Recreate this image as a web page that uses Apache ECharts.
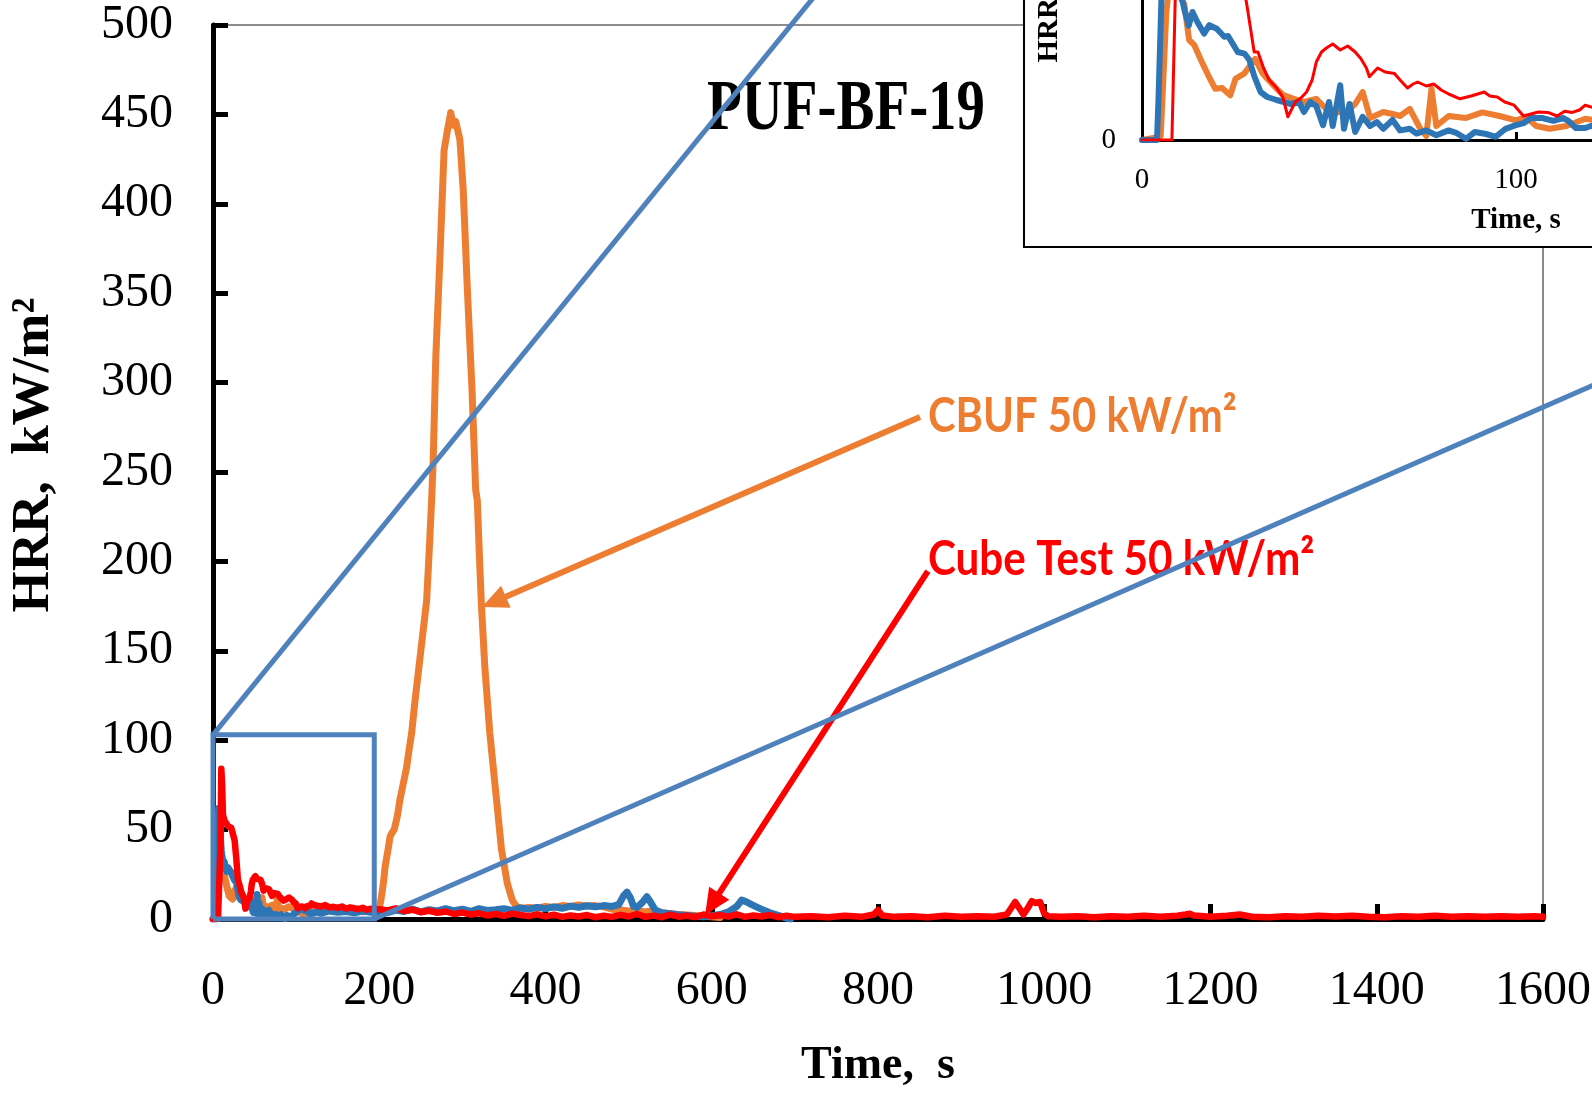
<!DOCTYPE html>
<html><head><meta charset="utf-8">
<script src="https://cdn.jsdelivr.net/npm/echarts@6/dist/echarts.min.js"></script>
<style>html,body{margin:0;padding:0;background:#fff}#c{width:1592px;height:1096px}</style>
</head><body><div id="c"></div>
<script>
// ---------- data (time s, HRR kW/m²) ----------
const cbufT = [0,3,5,5.7,6.5,7.5,8.5,10,11.3,12.6,14,16,17.8,19.6,21.4,23.6,25,27.3,29,30.3,32,33.5,36,37.8,40,43.3,46.6,50,54.6,57,59,61,64.5,67,69,71.6,74.3,76,77.4,78.7,82,86.6,91,95.6,100,102.7,105.4,109,113.5,118.5,125,130,140,150,160,170,180,190,196,200,202,205,207,211,213,215,218,222,225,229,233,236,239,243,250,257,260,263,265,268,273,278,282,286,289,292,297,301,306,311.6,316,318,321,323,327,333,341,347,354,360,365,372,380,390,400,410,420,430,440,450,460,470,480,490,500,510,520,530,540,550,560,570,580,590,600,610];
const cbufV = [0,0.5,1,15,32,40,38,36,34,25,23.7,19.5,16,12.8,13,11.2,15.3,16.6,18.7,20.3,17,15.3,12.8,11.2,10.5,9.5,10.3,7,7,9,12,5.5,7,6.5,6,7.8,3,1,12.8,3.5,6,5.5,6.9,6,4.9,5.7,3.5,2.8,3.5,5.3,4.5,5.5,4.8,5,4.2,4.8,4,4.5,4.5,6,10.6,20,29,40,46,48,50,58,67,76,85,95,104,122,150,178,205,234,258,314,370,430,441,451,444,446,436,408,352,296,240,234,197,175,141,104,67,39,20,10.6,7,6,6.5,6,7,6.5,7.5,7,7.8,7.2,7.5,6.8,5.5,5,4.5,4.8,4,4.5,3.5,3,2.5,2.2,2,1.5,1.2,0.8];

const coneT = [0,4,4.4,5.5,7,8,9,10,11.5,12.5,13.5,14.8,16.6,18,20,22,23,25.6,27.4,28.7,30,31.7,33.5,36,38,39.8,42,43.3,45,46.6,48.4,50,51,53,54,55.5,57,59,61,62.8,64.5,67,69,71.6,73.4,76,78.7,82,84,86.6,89,92,94.6,97.2,100,102,104,107,110,112.6,114,116,118.5,120,125,130,140,150,160,170,180,190,200,210,220,230,240,250,260,270,280,290,300,310,320,330,340,350,360,370,380,390,400,410,420,430,440,450,460,470,480,488,494,498,502,506,510,516,522,527,532,540,550,560,570,580,590,600,610,620,630,636,642,648,655,662,670,680,690,695];
const coneV = [0,0,10,45,62,55,45,38,32,28.6,32,29.5,26.6,28.7,27.8,25.8,26,22,21.6,20,16,12,10.75,10,9.5,9,9.5,7,9.5,8.5,3.7,9.5,3.5,13.7,2.8,9,2,5.8,3.5,4.5,2.8,5,2.4,2.8,1.6,2.4,1.2,2.4,1.8,0.3,2,1.5,0.8,2.8,3.7,4.2,5.5,5.5,4.8,5.5,4.8,3,3,3.5,4,3.2,4.5,3.8,4.2,3.5,4.5,3.8,4.5,3.5,5,4.2,5.5,4,5.2,4.5,5.8,4.6,5.5,4.2,5.8,4.8,5.2,5.8,4.8,6.2,5.5,6.5,5.8,6.8,6,7.2,6.5,7.4,6.8,7.5,7,8,13,15,12,7,6.5,9,12.4,9,5,3.5,3,2.4,2,1.5,1.2,1.8,2.5,4,7,10.6,9.5,8,6.5,5,3.5,2,0.5,0];

const cubeT = [0,6,8,9,10,11,12,14,18,22,24,26,28,30,31,32.5,34,36,37.7,39,41,42.5,44,45.5,46.6,48,49.3,51,53,55,57,58.5,60,60.8,62,63,65,67.5,69,71,72.5,73.7,76,78,80,82,85,88,91.5,93,95,97,99.5,102,104,106,108.5,111,113,115,117,118.5,121,125,130,135,140,145,150,155,160,165,170,175,180,185,190,195,200,210,220,230,240,250,260,270,280,290,300,310,320,330,340,350,360,370,380,390,400,410,420,430,440,450,460,470,480,490,500,510,520,530,540,550,560,570,580,590,600,610,620,630,640,650,660,670,680,690,700,720,740,760,780,795,800,805,820,840,860,880,900,920,940,955,960,965,970,975,980,985,990,995,1000,1005,1020,1040,1060,1080,1100,1120,1140,1160,1170,1175,1180,1200,1220,1235,1250,1270,1290,1310,1330,1350,1370,1390,1410,1430,1450,1470,1490,1510,1530,1550,1570,1590,1600];
const cubeV = [0,0,0,40,84,75,58,55,52,51,50,44,34,22,22,18,15,13,10.6,5.8,9.5,10.5,12,15,19.5,22,23,24,22.5,23.5,22,20.4,18,15.8,17,18,17,16.6,15,13,14,14.5,13.5,14,12.5,11.5,10.3,11,12,11,10.75,9.5,8.7,6,6.5,7,6.9,6,7.2,6.9,7.5,8.7,8,7.5,7,7.8,6.5,6.8,6.2,7,5.8,6.5,6,5.5,6.3,5.2,5.8,5.5,5.5,4.8,6,4.5,5.2,3.8,4.6,3.5,4.2,2.8,3.6,2.5,3.2,2,2.8,1.8,3,2.2,1.6,2.6,1.5,2.4,1.2,2,1.4,2.2,1,1.8,1.2,2.3,1.4,2.8,1.2,1.9,1,2.4,1.3,1.8,1.1,2.5,1.5,2.2,1.3,2.6,1.2,2,1.4,2.2,1,1.8,1.2,1.6,1,1.8,1.2,2.5,5,2,1.2,1.6,1,1.8,1.2,1.6,1.3,2.5,6,9.5,6,2.5,6,10,9,9.5,3,1.5,1.2,1.6,1,1.5,1.2,1.8,1.3,1.8,2.5,3,2,1.2,1.8,2.5,1.3,1,1.6,1.2,1.8,1.4,1.8,1.2,1,1.6,1.2,1.8,1.3,1.6,1.2,1.6,1.2,1.5,1.2];

// zoom box (data units) and axis ticks
const boxRight = 194, boxTop = 103;
const mainXTicks = [0,200,400,600,800,1000,1200,1400,1600];
const mainYTicks = [0,50,100,150,200,250,300,350,400,450,500];
const insetXTicks = [0,100,200];
const insetYTicks = [0,80];

// annotation anchors (data units of main chart)
const titleAt = [761.5, 452];
const cbufLabelAt = [860, 281];
const cubeLabelAt = [860, 201];
const cbufArrow = [[850.5, 280.8],[323.6, 174.5]];
const cubeArrow = [[860, 194.6],[592, 2.2]];

const C_OR = '#ED7D31', C_BL = '#2E75B6', C_RD = '#FF0000', C_BOX = '#4F81BD';
const pairs = (t, v) => t.map((x, i) => [x, v[i]]);
const plain = v => String(v);

const chart = echarts.init(document.getElementById('c'), null, {renderer: 'canvas'});
const serif = 'Liberation Serif, Times New Roman, serif';

function lineSeries(name, t, v, color, w, xi, z) {
  return {name, type: 'line', xAxisIndex: xi, yAxisIndex: xi, data: pairs(t, v),
    showSymbol: false, symbol: 'none', clip: true, z: z,
    lineStyle: {color, width: w, join: 'round', cap: 'round'}, itemStyle: {color}, silent: true};
}

const option = {
  animation: false,
  backgroundColor: '#fff',
  grid: [
    {left: 213, top: 25, width: 1330, height: 894, show: true, borderColor: '#8c8c8c', borderWidth: 2,
     outerBoundsMode: 'none', containLabel: false, z: 0},
    {left: 1142, top: -180, width: 748, height: 320, show: false, outerBoundsMode: 'none', containLabel: false, z: 11}
  ],
  xAxis: [
    {type: 'value', gridIndex: 0, min: mainXTicks[0], max: mainXTicks[mainXTicks.length-1], interval: 200,
     axisLine: {show: true, onZero: false, lineStyle: {color: '#000', width: 5}},
     axisTick: {show: true, inside: true, length: 15, lineStyle: {color: '#000', width: 5}},
     axisLabel: {color: '#000', fontFamily: serif, fontSize: 48, margin: 48, formatter: plain},
     splitLine: {show: false},
     name: 'Time,  s', nameLocation: 'middle', nameGap: 124,
     nameTextStyle: {color: '#000', fontFamily: serif, fontSize: 46, fontWeight: 'bold'}},
    {type: 'value', gridIndex: 1, min: insetXTicks[0], max: insetXTicks[insetXTicks.length-1], interval: 100, z: 12,
     axisLine: {show: true, onZero: false, lineStyle: {color: '#000', width: 3}},
     axisTick: {show: true, inside: true, length: 8, lineStyle: {color: '#000', width: 3}},
     axisLabel: {color: '#000', fontFamily: serif, fontSize: 29, margin: 26, formatter: plain},
     splitLine: {show: false},
     name: 'Time, s', nameLocation: 'middle', nameGap: 66,
     nameTextStyle: {color: '#000', fontFamily: serif, fontSize: 29, fontWeight: 'bold'}}
  ],
  yAxis: [
    {type: 'value', gridIndex: 0, min: mainYTicks[0], max: mainYTicks[mainYTicks.length-1], interval: 50,
     axisLine: {show: true, onZero: false, lineStyle: {color: '#000', width: 5}},
     axisTick: {show: true, inside: true, length: 15, lineStyle: {color: '#000', width: 5}},
     axisLabel: {color: '#000', fontFamily: serif, fontSize: 48, margin: 40, formatter: plain},
     splitLine: {show: false},
     name: 'HRR,  kW/m²', nameLocation: 'middle', nameGap: 152,
     nameTextStyle: {color: '#000', fontFamily: serif, fontSize: 53, fontWeight: 'bold', padding: [0, 0, 0, 34]}},
    {type: 'value', gridIndex: 1, min: insetYTicks[0], max: insetYTicks[1], interval: 80, z: 12,
     axisLine: {show: true, onZero: false, lineStyle: {color: '#000', width: 3}},
     axisTick: {show: false},
     axisLabel: {color: '#000', fontFamily: serif, fontSize: 29, margin: 26, formatter: plain},
     splitLine: {show: false},
     name: 'HRR, kW/m²', nameLocation: 'middle', nameGap: 78,
     nameTextStyle: {color: '#000', fontFamily: serif, fontSize: 29, fontWeight: 'bold'}}
  ],
  series: [
    lineSeries('CBUF 50 kW/m²', cbufT, cbufV, C_OR, 7, 0, 2),
    lineSeries('Cone 50 kW/m²', coneT, coneV, C_BL, 7, 0, 3),
    lineSeries('Cube Test 50 kW/m²', cubeT, cubeV, C_RD, 6.5, 0, 4),
    {type: 'line', xAxisIndex: 0, yAxisIndex: 0, z: 6, silent: true, showSymbol: false, symbol: 'none', clip: false,
     data: [[0,0],[boxRight,0],[boxRight,boxTop],[0,boxTop],[0,0]],
     lineStyle: {color: C_BOX, width: 5, join: 'miter'}},
    lineSeries('CBUF inset', cbufT, cbufV, C_OR, 6, 1, 13),
    lineSeries('Cone inset', coneT, coneV, C_BL, 6, 1, 14),
    lineSeries('Cube inset', cubeT, cubeV, C_RD, 3, 1, 15)
  ]
};
chart.setOption(option);

// ---------- annotations placed through the main chart's scales ----------
const P = p => chart.convertToPixel({gridIndex: 0}, p);
const insetFrame = {x: 1024, y: -261, w: 885, h: 508};

function arrowEls(a, b, color, w, headLen, headW) {
  const A = P(a), B = P(b);
  const dx = B[0]-A[0], dy = B[1]-A[1], L = Math.hypot(dx, dy);
  const ux = dx/L, uy = dy/L, nx = -uy, ny = ux;
  const base = [B[0]-ux*headLen, B[1]-uy*headLen];
  return [
    {type: 'line', z: 30, shape: {x1: A[0], y1: A[1], x2: base[0]+ux*2, y2: base[1]+uy*2}, style: {stroke: color, lineWidth: w}},
    {type: 'polygon', z: 30, shape: {points: [B, [base[0]+nx*headW, base[1]+ny*headW], [base[0]-nx*headW, base[1]-ny*headW]]}, style: {fill: color}}
  ];
}

const tl = P([0, boxTop]), br = P([boxRight, 0]);
const tPos = P(titleAt), cbPos = P(cbufLabelAt), cuPos = P(cubeLabelAt);
const sans = 'Lato, "Open Sans", sans-serif';

chart.setOption({graphic: {elements: [
  {type: 'rect', z: 10, shape: {x: insetFrame.x, y: insetFrame.y, width: insetFrame.w, height: insetFrame.h},
   style: {fill: '#fff', stroke: '#000', lineWidth: 2}},
  {type: 'text', z: 20, x: tPos[0], y: tPos[1], scaleX: 0.79,
   style: {text: 'PUF-BF-19', font: 'bold 72px ' + serif, fill: '#000', align: 'center', verticalAlign: 'middle'}},
  {type: 'text', z: 20, x: cbPos[0], y: cbPos[1], scaleX: 0.87,
   style: {text: 'CBUF 50 kW/m²', font: 'bold 48px ' + sans, fill: C_OR, align: 'left', verticalAlign: 'middle'}},
  {type: 'text', z: 20, x: cuPos[0], y: cuPos[1], scaleX: 0.88,
   style: {text: 'Cube Test 50 kW/m²', font: 'bold 48px ' + sans, fill: C_RD, align: 'left', verticalAlign: 'middle'}},
  ...arrowEls(cbufArrow[0], cbufArrow[1], C_OR, 6, 26, 12),
  ...arrowEls(cubeArrow[0], cubeArrow[1], C_RD, 6, 26, 12),
  {type: 'line', z: 40, shape: {x1: tl[0], y1: tl[1], x2: insetFrame.x, y2: insetFrame.y}, style: {stroke: C_BOX, lineWidth: 5}},
  {type: 'line', z: 40, shape: {x1: br[0], y1: br[1], x2: insetFrame.x + insetFrame.w, y2: insetFrame.y + insetFrame.h}, style: {stroke: C_BOX, lineWidth: 5}}
]}});
</script></body></html>
